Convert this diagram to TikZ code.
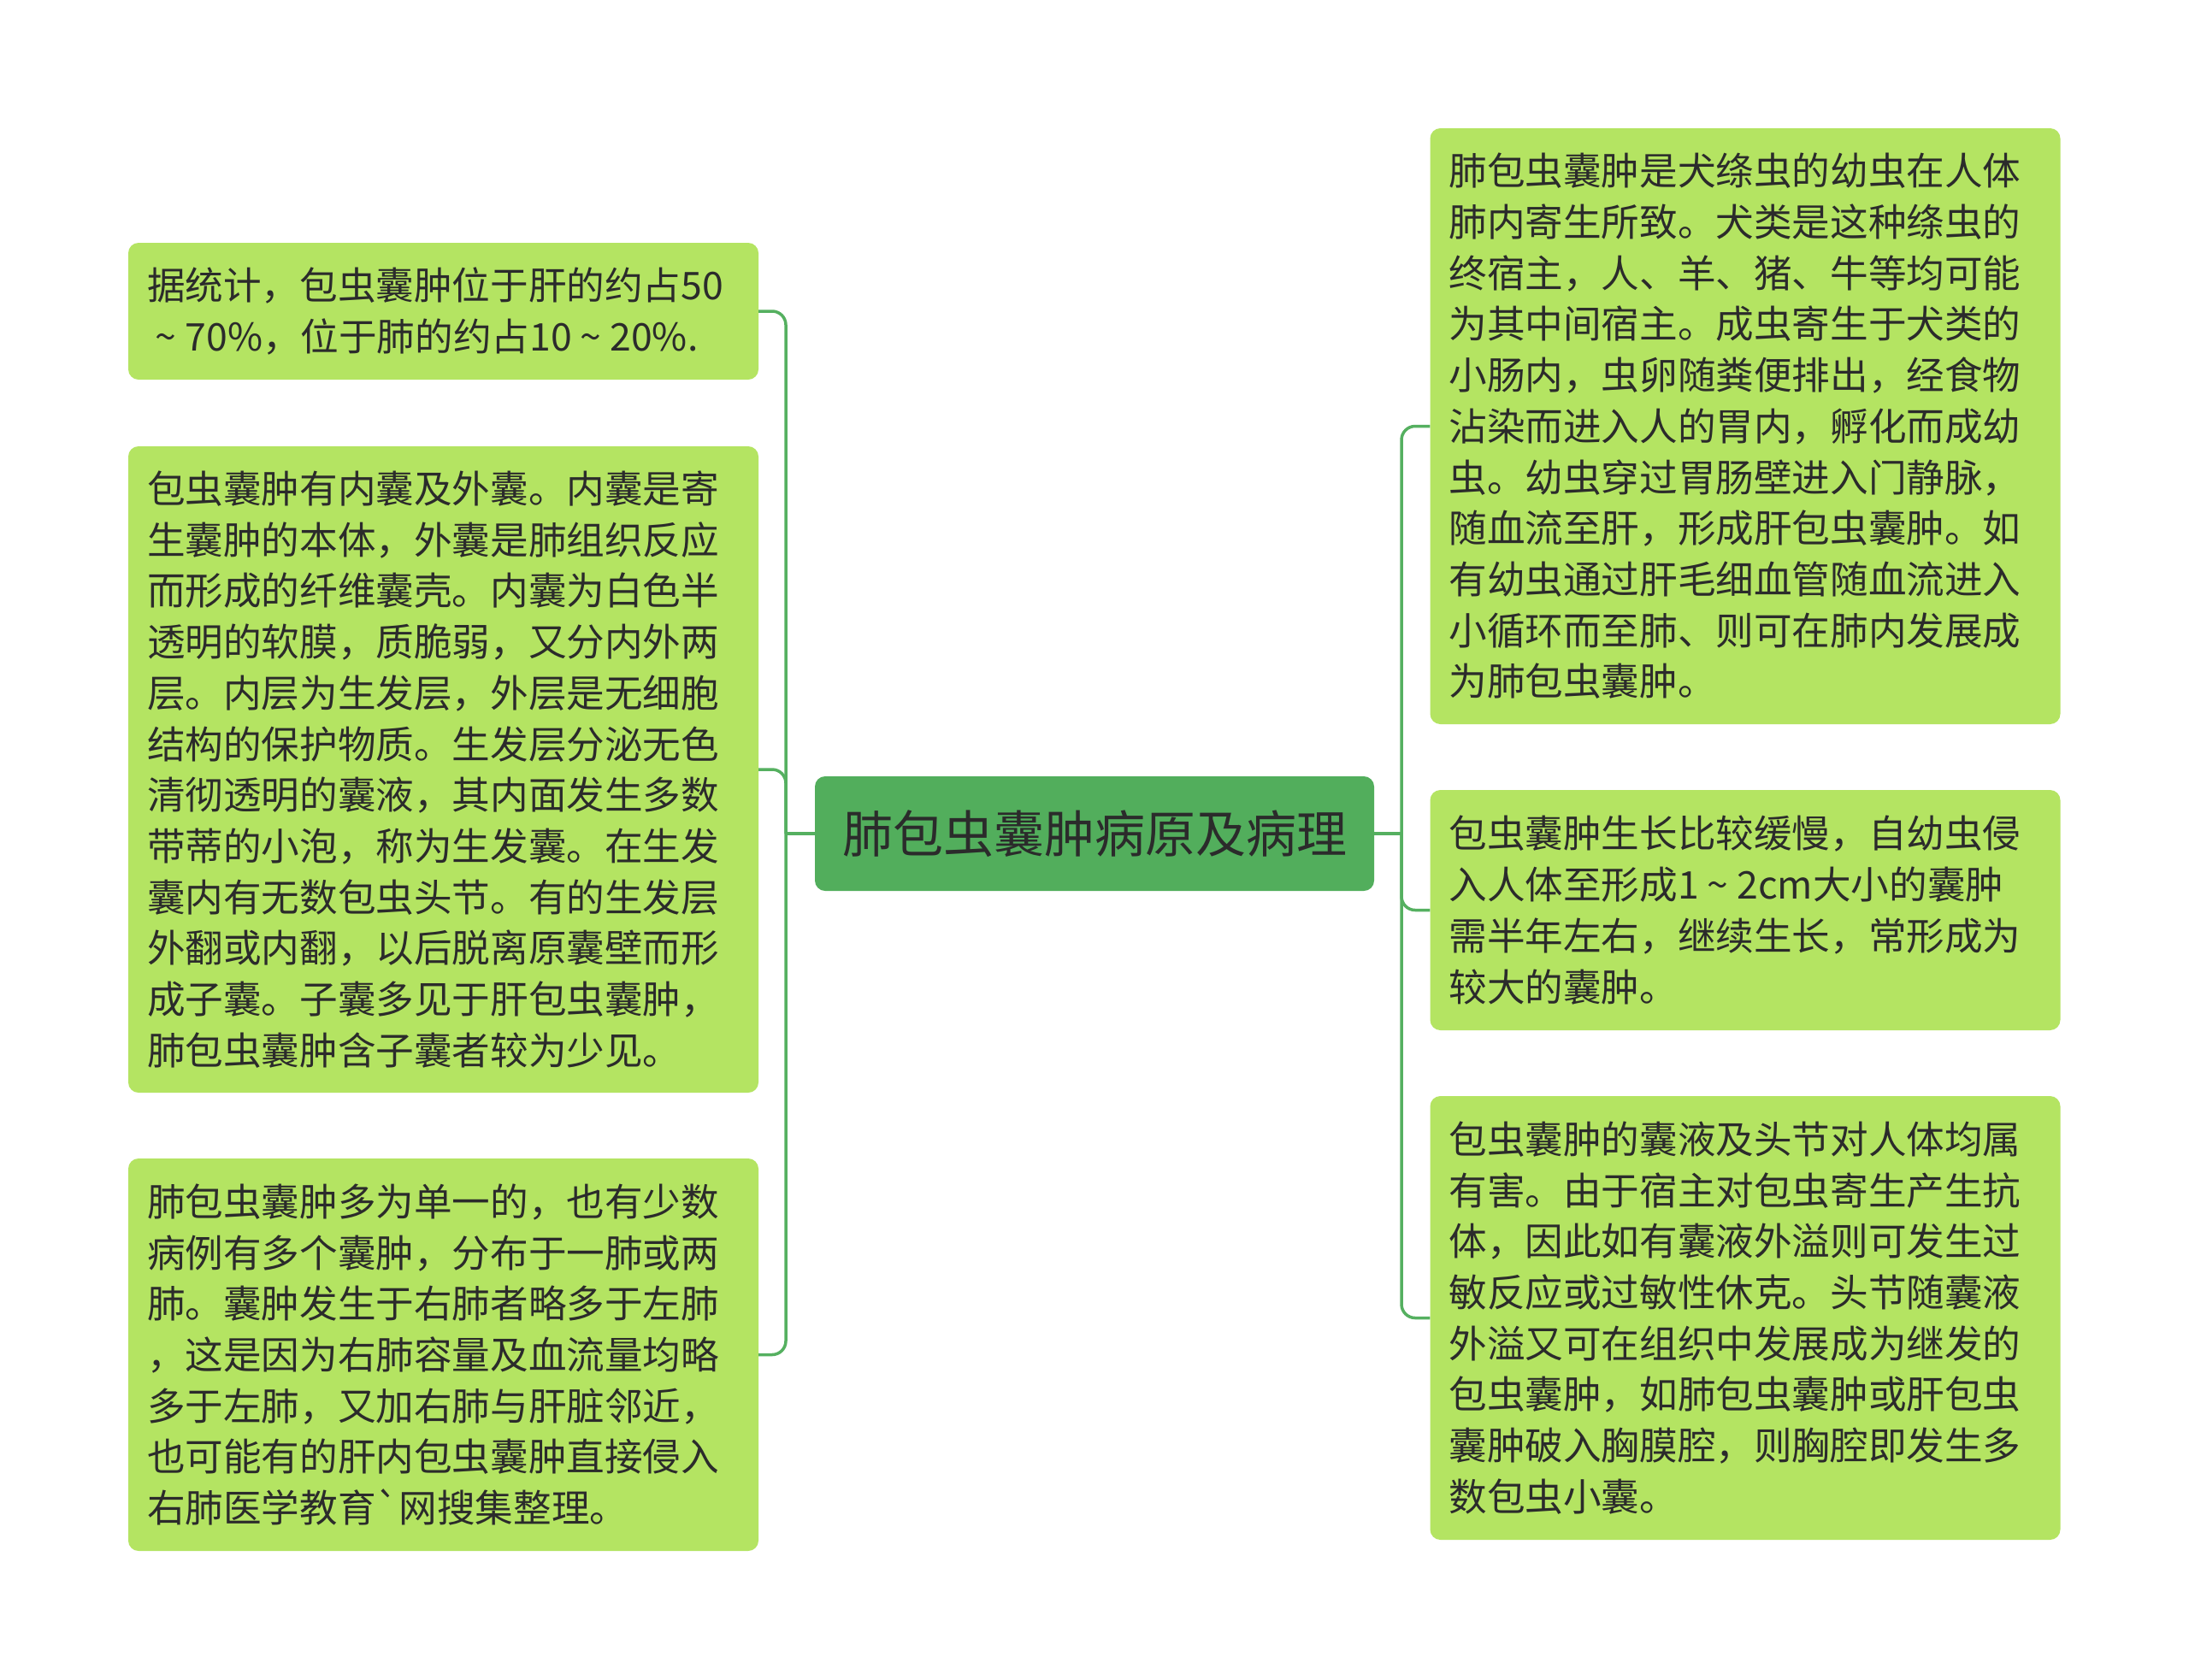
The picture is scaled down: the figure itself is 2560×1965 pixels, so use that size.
\documentclass[tikz,border=0pt]{standalone}
\usepackage{fontspec}
\setmainfont{Noto Sans CJK SC}[Ligatures=TeXOff]
\definecolor{linegreen}{HTML}{55B060}
\definecolor{rootfill}{HTML}{52AE5C}
\definecolor{leaffill}{HTML}{B4E462}
\definecolor{txt}{HTML}{2B2B2B}
\newcommand{\wtilde}{\makebox[1em][c]{\textasciitilde}}
\tikzset{
  conn/.style={draw=linegreen, line width=3.5pt},
  rootbox/.style={draw=none, fill=rootfill, rounded corners=12pt, text=txt,
    minimum width=654pt, minimum height=134pt, inner sep=0pt,
    font=\fontsize{59}{70}\selectfont},
  leafbox/.style={draw=none, fill=leaffill, rounded corners=12pt, text=txt,
    text width=693pt, inner xsep=22pt, inner ysep=0pt, align=left,
    minimum width=737pt, font=\fontsize{44.6}{59.7}\selectfont},
}
\begin{document}
\begin{tikzpicture}[x=1pt,y=-1pt]
\useasboundingbox (0,0) rectangle (2560,1965);
\fill[white] (0,0) rectangle (2560,1965);

\node[rootbox] (c) at (1280,975) {肺包虫囊肿病原及病理};

\node[leafbox, minimum height=160pt] (l1) at (518.5,364) {据统计，包虫囊肿位于肝的约占50\\\wtilde 70\%，位于肺的约占10\wtilde 20\%.};
\node[leafbox, minimum height=756pt] (l2) at (518.5,900) {包虫囊肿有内囊及外囊。内囊是寄\\生囊肿的本体，外囊是肺组织反应\\而形成的纤维囊壳。内囊为白色半\\透明的软膜，质脆弱，又分内外两\\层。内层为生发层，外层是无细胞\\结构的保护物质。生发层分泌无色\\清彻透明的囊液，其内面发生多数\\带蒂的小泡，称为生发囊。在生发\\囊内有无数包虫头节。有的生发层\\外翻或内翻，以后脱离原囊壁而形\\成子囊。子囊多见于肝包虫囊肿，\\肺包虫囊肿含子囊者较为少见。};
\node[leafbox, minimum height=459pt] (l3) at (518.5,1584.5) {肺包虫囊肿多为单一的，也有少数\\病例有多个囊肿，分布于一肺或两\\肺。囊肿发生于右肺者略多于左肺\\，这是因为右肺容量及血流量均略\\多于左肺，又加右肺与肝脏邻近，\\也可能有的肝内包虫囊肿直接侵入\\右肺医学教育`网搜集整理。};

\node[leafbox, minimum height=697pt] (r1) at (2041,498.5) {肺包虫囊肿是犬绦虫的幼虫在人体\\肺内寄生所致。犬类是这种绦虫的\\终宿主，人、羊、猪、牛等均可能\\为其中间宿主。成虫寄生于犬类的\\小肠内，虫卵随粪便排出，经食物\\沾染而进入人的胃内，孵化而成幼\\虫。幼虫穿过胃肠壁进入门静脉，\\随血流至肝，形成肝包虫囊肿。如\\有幼虫通过肝毛细血管随血流进入\\小循环而至肺、则可在肺内发展成\\为肺包虫囊肿。};
\node[leafbox, minimum height=281pt] (r2) at (2041,1064.5) {包虫囊肿生长比较缓慢，自幼虫侵\\入人体至形成1\wtilde 2cm大小的囊肿\\需半年左右，继续生长，常形成为\\较大的囊肿。};
\node[leafbox, minimum height=519pt] (r3) at (2041,1541.5) {包虫囊肿的囊液及头节对人体均属\\有害。由于宿主对包虫寄生产生抗\\体，因此如有囊液外溢则可发生过\\敏反应或过敏性休克。头节随囊液\\外溢又可在组织中发展成为继发的\\包虫囊肿，如肺包虫囊肿或肝包虫\\囊肿破入胸膜腔，则胸腔即发生多\\数包虫小囊。};

\coordinate (lbus) at (919,975);
\coordinate (rbus) at (1639,975);

\draw[conn] (c.west) -- (lbus);
\draw[conn] (c.east) -- (rbus);
\draw[conn, rounded corners=16pt] (lbus) |- (l1.east);
\draw[conn, rounded corners=16pt] (lbus) |- (l2.east);
\draw[conn, rounded corners=16pt] (lbus) |- (l3.east);
\draw[conn, rounded corners=16pt] (rbus) |- (r1.west);
\draw[conn, rounded corners=16pt] (rbus) |- (r2.west);
\draw[conn, rounded corners=16pt] (rbus) |- (r3.west);
\end{tikzpicture}
\end{document}
